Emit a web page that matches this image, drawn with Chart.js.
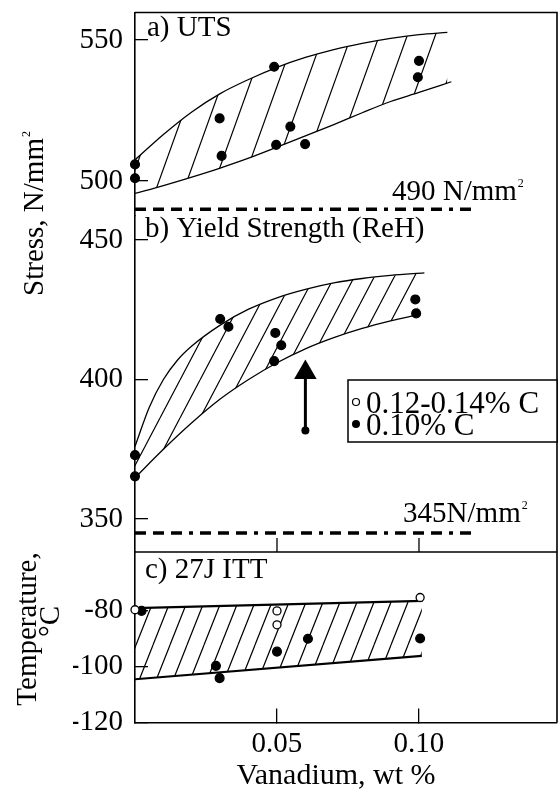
<!DOCTYPE html>
<html>
<head>
<meta charset="utf-8">
<script src="https://cdn.jsdelivr.net/npm/chart.js@4.4.1/dist/chart.umd.min.js"></script>
<style>
  html, body { margin: 0; padding: 0; background: #fff; }
  #wrap { width: 559px; height: 791px; }
</style>
</head>
<body>
<div id="wrap"><canvas id="chart" width="559" height="791"></canvas></div>
<script>
// Vanadium content (wt %) on the shared x axis
const xTicks = [0.05, 0.10];

// a) UTS
const utsTicks = [500, 550];
const utsV = [0, 0, 0.0298, 0.0305, 0.049, 0.0497, 0.0547, 0.0599, 0.1, 0.0996];
const utsVal = [505.9, 501, 522.2, 508.9, 540.5, 512.8, 519.3, 513.1, 542.6, 536.8];
const utsUpperV = [0, 0.01, 0.02, 0.03, 0.04, 0.05, 0.06, 0.07, 0.08, 0.09, 0.10, 0.11];
const utsUpper = [507.5, 516.5, 524.5, 531, 536, 540.3, 543.8, 546.6, 548.8, 550.6, 551.9, 552.7];
const utsLowerV = [0, 0.01, 0.02, 0.03, 0.04, 0.05, 0.06, 0.07, 0.08, 0.09, 0.10, 0.1114];
const utsLower = [495.6, 498.4, 501.4, 504.6, 508.1, 512, 516, 520, 524.2, 528.2, 531.4, 535.2];
const utsLimitV = [0, 0.1197];
const utsLimit = [490, 490];

// b) Yield strength (ReH)
const ysTicks = [350, 400, 450];
const ysV = [0, 0, 0.030, 0.0329, 0.0494, 0.0515, 0.049, 0.0987, 0.099];
const ysVal = [372.9, 365.3, 421.7, 418.9, 416.7, 412.3, 406.6, 428.7, 423.7];
const ysUpperV = [0, 0.005, 0.01, 0.015, 0.02, 0.03, 0.04, 0.05, 0.06, 0.07, 0.08, 0.09, 0.1019];
const ysUpper = [376, 390, 400, 407, 412, 419.5, 425.2, 429.3, 432.3, 434.6, 436.2, 437.3, 438.2];
const ysLowerV = [0, 0.01, 0.02, 0.03, 0.04, 0.05, 0.06, 0.07, 0.08, 0.09, 0.0994];
const ysLower = [364.8, 375, 384.5, 393, 400, 406, 411, 415, 418.3, 421, 423.2];
const ysLimitV = [0, 0.12];
const ysLimit = [345, 345];
const arrowV = [0.060, 0.060];
const arrowVal = [381.7, 402.5];

// c) 27J ITT
const ittTicks = [-120, -100, -80];
const ittOpenV = [0, 0.05, 0.05, 0.1004];
const ittOpen = [-79.6, -80, -85, -75.2];
const ittFilledV = [0.0023, 0.0285, 0.0298, 0.05, 0.0609, 0.1004];
const ittFilled = [-80, -99.7, -104.1, -94.6, -90, -89.9];
const ittUpperV = [0, 0.1013];
const ittUpper = [-79, -76.4];
const ittLowerV = [0, 0.101];
const ittLower = [-104.5, -96.1];

const labelOpen = '0.12-0.14% C';
const labelFilled = '0.10% C';
const panelLabels = ['a) UTS', 'b) Yield Strength (ReH)', 'c) 27J ITT'];
const xTitle = 'Vanadium, wt %';

const SERIF = '"Liberation Serif", "Times New Roman", serif';
const FONT = '29px ' + SERIF;
const TITLE_FONT = '30px ' + SERIF;
const LEGEND_FONT = '31px ' + SERIF;
const SUP_FONT = '12px ' + SERIF;

Chart.defaults.font.family = SERIF;
Chart.defaults.color = '#000';

const canvas = document.getElementById('chart');
const ctx = canvas.getContext('2d');

function hatch(spacing, slope) {
  const w = spacing, h = Math.round(spacing * slope);
  const tile = document.createElement('canvas');
  tile.width = w;
  tile.height = h;
  const g = tile.getContext('2d');
  g.strokeStyle = '#000';
  g.lineWidth = 1.2;
  g.beginPath();
  for (let k = -1; k <= 1; k++) {
    g.moveTo(k * w, h);
    g.lineTo((k + 1) * w, 0);
  }
  g.stroke();
  return ctx.createPattern(tile, 'repeat');
}

const pts = (xs, ys) => xs.map((x, i) => ({ x, y: ys[i] }));

function band(xu, yu, xl, yl, axis, pattern, width) {
  const common = {
    yAxisID: axis, borderColor: '#000', borderWidth: width, pointRadius: 0,
    cubicInterpolationMode: 'monotone'
  };
  return [
    { ...common, data: pts(xu, yu), fill: '+1', backgroundColor: pattern },
    { ...common, data: pts(xl, yl), fill: false }
  ];
}

function dots(xs, ys, axis, label, open) {
  return {
    label, yAxisID: axis, data: pts(xs, ys), showLine: false, clip: false,
    pointRadius: open ? 4 : 4.4,
    pointBackgroundColor: open ? '#fff' : '#000',
    pointBorderColor: '#000', pointBorderWidth: 1.3
  };
}

function limit(xs, ys, axis) {
  return {
    yAxisID: axis, data: pts(xs, ys), borderColor: '#000', borderWidth: 3.5,
    borderDash: [11, 7, 11, 7, 11, 7, 4, 7], pointRadius: 0, fill: false, clip: false
  };
}

function yScale(min, max, ticks, weight, stackWeight) {
  return {
    type: 'linear', position: 'left', stack: 'panels', stackWeight, weight, min, max,
    grid: { display: true, drawOnChartArea: false, drawTicks: true, tickLength: -13, color: '#000', lineWidth: 1.3 },
    border: { display: true, color: '#000', width: 1.6 },
    ticks: { padding: 25, font: { size: 29 }, color: '#000' },
    afterBuildTicks: s => { s.ticks = ticks.map(v => ({ value: v })); },
    afterFit: s => { s.width = 62; s.paddingTop = 0; s.paddingBottom = 0; }
  };
}

const datasets = [
  dots(ittOpenV, ittOpen, 'yC', labelOpen, true),
  dots(ittFilledV, ittFilled, 'yC', labelFilled, false),
  dots(utsV, utsVal, 'yA', labelFilled, false),
  dots(ysV, ysVal, 'yB', labelFilled, false),
  {
    yAxisID: 'yB', data: pts(arrowV, arrowVal), borderColor: '#000', borderWidth: 3,
    pointStyle: ['circle', 'triangle'], pointRadius: [4, 13],
    pointBackgroundColor: '#000', pointBorderColor: '#000', pointBorderWidth: 0, fill: false
  },
  limit(utsLimitV, utsLimit, 'yA'),
  limit(ysLimitV, ysLimit, 'yB'),
  ...band(utsUpperV, utsUpper, utsLowerV, utsLower, 'yA', hatch(28, 2.8), 1.3),
  ...band(ysUpperV, ysUpper, ysLowerV, ysLower, 'yB', hatch(20, 1.9), 1.3),
  ...band(ittUpperV, ittUpper, ittLowerV, ittLower, 'yC', hatch(17, 2.5), 2.2)
];

function supText(c, text, sup, x, y, centered) {
  c.font = FONT;
  const w = c.measureText(text).width;
  c.font = SUP_FONT;
  const ws = c.measureText(sup).width;
  const start = centered ? x - (w + ws + 1) / 2 : x;
  c.textAlign = 'left';
  c.font = FONT;
  c.fillText(text, start, y);
  c.font = SUP_FONT;
  c.fillText(sup, start + w + 1, y - 13);
}

const framePlugin = {
  id: 'frame',
  afterDraw(chart) {
    const { ctx: c, chartArea: a, scales } = chart;
    const { x, yC } = scales;
    c.save();
    c.strokeStyle = '#000';
    c.lineWidth = 1.6;
    c.beginPath();
    c.moveTo(a.left, a.top); c.lineTo(a.right, a.top); c.lineTo(a.right, a.bottom);
    c.moveTo(a.left, yC.top); c.lineTo(a.right, yC.top);
    c.stroke();
    c.lineWidth = 1.3;
    c.beginPath();
    xTicks.forEach(v => {
      const px = x.getPixelForValue(v);
      c.moveTo(px, yC.top); c.lineTo(px, yC.top - 14);
    });
    c.stroke();
    c.restore();
  }
};

const textPlugin = {
  id: 'annotations',
  afterDraw(chart) {
    const { ctx: c, chartArea: a, scales } = chart;
    const { x, yA, yB, yC } = scales;
    c.save();
    c.fillStyle = '#000';
    c.textBaseline = 'alphabetic';
    c.textAlign = 'left';
    c.font = FONT;
    c.fillText(panelLabels[0], a.left + 12, yA.top + 23);
    c.fillText(panelLabels[1], a.left + 10, yB.top + 21);
    c.fillText(panelLabels[2], a.left + 10, yC.top + 26);
    supText(c, '490 N/mm', '2', x.getPixelForValue(0.0905), yA.getPixelForValue(490) - 9, false);
    supText(c, '345N/mm', '2', x.getPixelForValue(0.0944), yB.getPixelForValue(345) - 11, false);

    // x title
    c.font = TITLE_FONT;
    c.textAlign = 'center';
    c.fillText(xTitle, 336, 784);

    // y titles
    c.save();
    c.translate(43, 213.5);
    c.rotate(-Math.PI / 2);
    supText(c, 'Stress, N/mm', '2', 0, 0, true);
    c.restore();
    c.save();
    c.font = FONT;
    c.textAlign = 'center';
    c.translate(36, 629);
    c.rotate(-Math.PI / 2);
    c.fillText('Temperature,', 0, 0);
    c.restore();
    c.save();
    c.font = FONT;
    c.textAlign = 'center';
    c.translate(59, 621.5);
    c.rotate(-Math.PI / 2);
    c.fillText('°C', 0, 0);
    c.restore();

    // legend box
    const lx = 348, ly = 380, lw = 209, lh = 62;
    c.fillStyle = '#fff';
    c.fillRect(lx, ly, lw, lh);
    c.strokeStyle = '#000';
    c.lineWidth = 1.5;
    c.strokeRect(lx, ly, lw, lh);
    c.fillStyle = '#000';
    c.beginPath();
    c.arc(lx + 8, ly + 22, 3.5, 0, Math.PI * 2);
    c.lineWidth = 1.2;
    c.stroke();
    c.beginPath();
    c.arc(lx + 8, ly + 44, 4, 0, Math.PI * 2);
    c.fill();
    c.font = LEGEND_FONT;
    c.textAlign = 'left';
    c.fillText(labelOpen, lx + 18, ly + 33);
    c.fillText(labelFilled, lx + 18, ly + 55);
    c.restore();
  }
};

new Chart(ctx, {
  type: 'line',
  data: { datasets },
  options: {
    responsive: false,
    animation: false,
    devicePixelRatio: 1,
    layout: { autoPadding: false, padding: { left: 73, right: 2, top: 12.5, bottom: 0 } },
    plugins: { legend: { display: false }, tooltip: { enabled: false } },
    scales: {
      x: {
        type: 'linear', position: 'bottom', min: 0, max: 0.1486,
        grid: { display: true, drawOnChartArea: false, drawTicks: true, tickLength: -14, color: '#000', lineWidth: 1.3 },
        border: { display: true, color: '#000', width: 1.6 },
        ticks: { padding: 18, font: { size: 29 }, color: '#000', callback: v => v.toFixed(2) },
        title: { display: false },
        afterBuildTicks: s => { s.ticks = xTicks.map(v => ({ value: v })); },
        afterFit: s => { s.height = 68.5; s.paddingLeft = 0; s.paddingRight = 0; }
      },
      yC: yScale(-120, -58.9, ittTicks, 1, 170.5),
      yB: yScale(338.2, 458.6, ysTicks, 2, 336),
      yA: yScale(487.6, 559.75, utsTicks, 3, 203.5)
    }
  },
  plugins: [framePlugin, textPlugin]
});
</script>
</body>
</html>
